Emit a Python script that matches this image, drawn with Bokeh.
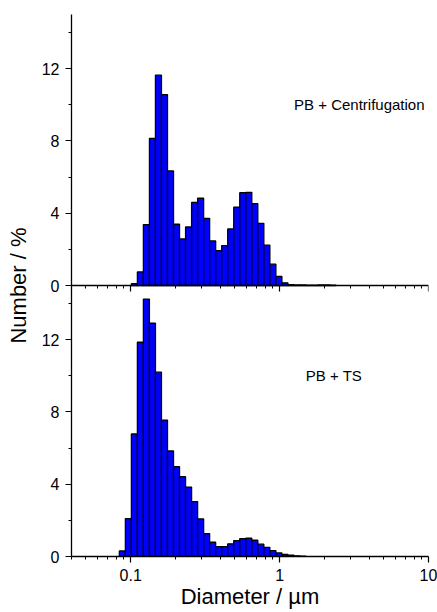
from bokeh.plotting import figure
from bokeh.models import (Range1d, LogAxis, FixedTicker, Label,
                          CustomJSTickFormatter, ColumnDataSource)
from bokeh.embed import file_html
from bokeh.resources import INLINE

# Log-spaced size classes (bin centres, µm) shared by both distributions
diameter_um = [0.0878, 0.0964, 0.1058, 0.1161, 0.1274, 0.1399, 0.1535, 0.1685,
               0.1850, 0.2030, 0.2228, 0.2446, 0.2685, 0.2947, 0.3234, 0.3550,
               0.3896, 0.4277, 0.4694, 0.5152, 0.5655, 0.6207, 0.6813, 0.7478,
               0.8208, 0.9009, 0.9888, 1.085, 1.191, 1.308, 1.435, 1.575,
               1.729, 1.898, 2.083, 2.286]
bin_ratio = 1.0976  # ratio between neighbouring class edges

# Number-weighted distributions (%)
number_centrifugation = [0, 0, 0.10, 0.75, 3.37, 8.14, 11.64, 10.57,
                         6.34, 3.39, 2.58, 3.24, 4.60, 4.83, 3.72, 2.47,
                         1.93, 2.21, 3.13, 4.33, 5.14, 5.16, 4.53, 3.44,
                         2.23, 1.18, 0.50, 0.15, 0.05, 0.03, 0.03, 0.02,
                         0.02, 0.03, 0.03, 0.02]
number_ts = [0.31, 2.10, 6.78, 11.86, 14.25, 12.91, 10.20, 7.55,
             5.84, 4.97, 4.42, 3.84, 3.04, 2.08, 1.27, 0.79,
             0.55, 0.55, 0.70, 0.88, 0.99, 1.01, 0.90, 0.68,
             0.50, 0.33, 0.20, 0.11, 0.07, 0.04, 0.02, 0,
             0, 0, 0, 0]

panel_labels = ["PB + Centrifugation", "PB + TS"]
y_ticks = [0, 4, 8, 12]
y_minor = [2, 6, 10, 14]
x_major = [0.1, 1, 10]
x_minor = [0.04, 0.05, 0.06, 0.07, 0.08, 0.09,
           0.2, 0.3, 0.4, 0.5, 0.6, 0.7, 0.8, 0.9,
           2, 3, 4, 5, 6, 7, 8, 9]

FONT = "Liberation Sans"
PANEL_SPAN = 15  # each panel shows 0..15 %


def bars(values):
    half = bin_ratio ** 0.5
    rows = [(d / half, d * half, v) for d, v in zip(diameter_um, values) if v > 0]
    return ColumnDataSource(dict(left=[r[0] for r in rows],
                                 right=[r[1] for r in rows],
                                 top=[r[2] for r in rows]))


p = figure(width=437, height=612, x_axis_type="log",
           x_range=Range1d(0.04, 10), y_range=Range1d(0, 2 * PANEL_SPAN),
           output_backend="svg", toolbar_location=None,
           min_border_left=71, min_border_right=9,
           min_border_top=14, min_border_bottom=56)
# upper panel: its zero sits on the boundary between the two panels
p.extra_y_ranges = {"upper": Range1d(-PANEL_SPAN, PANEL_SPAN)}

p.outline_line_color = None
p.xgrid.visible = False
p.ygrid.visible = False
p.background_fill_color = "white"
p.border_fill_color = "white"

bar_style = dict(fill_color="#0000FF", line_color="black", line_width=1.3)
p.quad(left="left", right="right", bottom=0, top="top",
       source=bars(number_ts), **bar_style)
p.quad(left="left", right="right", bottom=0, top="top",
       source=bars(number_centrifugation), y_range_name="upper", **bar_style)

# shared y axis with both panels' scales
yax = p.yaxis[0]
ticks = y_ticks + [t + PANEL_SPAN for t in y_ticks]
yax.ticker = FixedTicker(ticks=ticks,
                         minor_ticks=y_minor + [t + PANEL_SPAN for t in y_minor])
yax.formatter = CustomJSTickFormatter(
    args=dict(span=PANEL_SPAN),
    code="return String(tick >= span ? tick - span : tick)")
yax.axis_label = "Number / %"

xax = p.xaxis[0]
xax.ticker = FixedTicker(ticks=x_major, minor_ticks=x_minor)
xax.formatter = CustomJSTickFormatter(code="return String(tick)")
xax.axis_label = "Diameter / µm"

# x axis under the upper panel (ticks only)
mid = LogAxis(fixed_location=PANEL_SPAN,
              ticker=FixedTicker(ticks=x_major, minor_ticks=x_minor),
              formatter=CustomJSTickFormatter(code="return ''"),
              major_label_standoff=0)
p.add_layout(mid, "below")

for ax in (yax, xax, mid):
    ax.axis_line_color = "black"
    ax.axis_line_width = 1.3
    ax.major_tick_line_color = "black"
    ax.minor_tick_line_color = "black"
    ax.major_tick_line_width = 1.2
    ax.minor_tick_line_width = 1.0
    ax.major_tick_in = 0
    ax.minor_tick_in = 0
    ax.major_tick_out = 6
    ax.minor_tick_out = 3
    ax.major_label_text_font = FONT
    ax.major_label_text_color = "black"
    ax.axis_label_text_font = FONT
    ax.axis_label_text_font_style = "normal"
    ax.axis_label_text_color = "black"

for ax in (yax, xax):
    ax.major_label_text_font_size = "16px"
    ax.axis_label_text_font_size = "22px"
yax.major_label_standoff = 6
yax.axis_label_standoff = 8
xax.major_label_standoff = 6
xax.axis_label_standoff = 0

p.add_layout(Label(x=1.25, y=10, y_range_name="upper", text=panel_labels[0],
                   text_font=FONT, text_font_size="15px",
                   text_baseline="middle", text_color="black"))
p.add_layout(Label(x=1.50, y=10, text=panel_labels[1],
                   text_font=FONT, text_font_size="15px",
                   text_baseline="middle", text_color="black"))

open("out.html", "w").write(file_html(p, INLINE))
